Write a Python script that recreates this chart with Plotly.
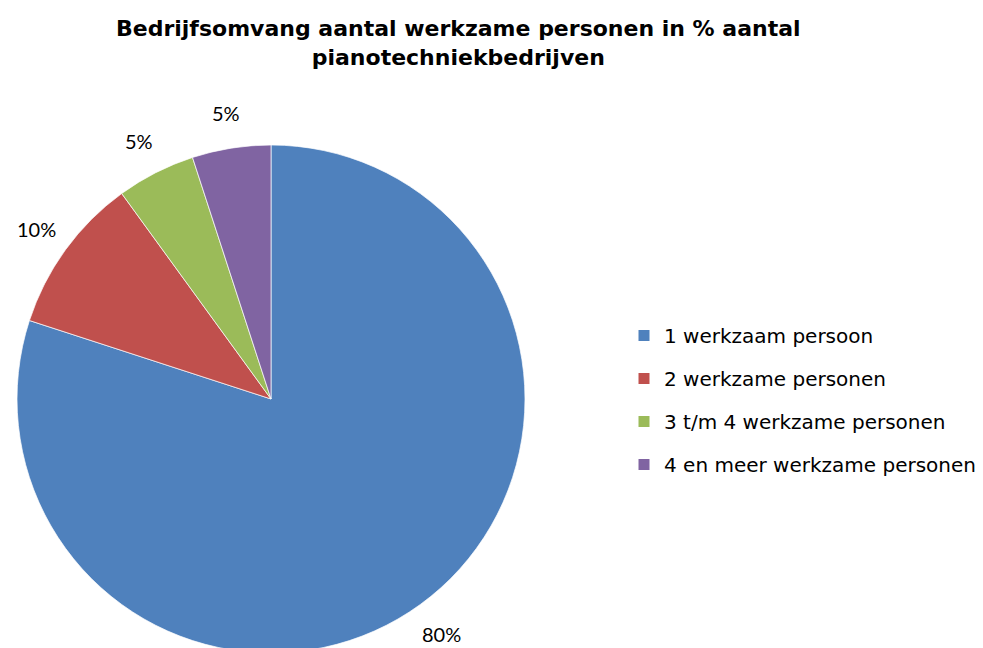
"""Pie chart: bedrijfsomvang pianotechniekbedrijven."""
import math
import plotly.graph_objects as go

labels = [
    "1 werkzaam persoon",
    "2 werkzame personen",
    "3 t/m 4 werkzame personen",
    "4 en meer werkzame personen",
]
values = [80, 10, 5, 5]
colors = ["#4F81BD", "#C0504D", "#9BBB59", "#8064A2"]

title_text = "Bedrijfsomvang aantal werkzame personen in % aantal<br>pianotechniekbedrijven"

W, H = 983, 648

# pie placement in pixels (figure coords)
pie_left, pie_right = 9, 517
pie_top, pie_bottom = 137, 645
cx = (pie_left + pie_right) / 2
cy = (pie_top + pie_bottom) / 2
label_r = 290  # distance of the percentage labels from the centre

fig = go.Figure()

fig.add_trace(go.Pie(
    labels=labels,
    values=values,
    sort=False,
    direction="clockwise",
    rotation=0,
    marker=dict(colors=colors, line=dict(color="white", width=0.7)),
    textinfo="none",
    showlegend=False,
    domain=dict(x=[pie_left / W, pie_right / W], y=[1 - pie_bottom / H, 1 - pie_top / H]),
    hoverinfo="label+percent",
))

# percentage labels a bit further out than plotly's own outside text
total = sum(values)
cum = 0
for v in values:
    mid = (cum + v / 2) / total * 2 * math.pi
    cum += v
    px = cx + label_r * math.sin(mid)
    py = cy - label_r * math.cos(mid)
    fig.add_annotation(
        text=f"{round(v / total * 100)}%",
        xref="paper", yref="paper",
        x=px / W, y=1 - py / H,
        xanchor="center", yanchor="middle",
        showarrow=False,
        font=dict(family="Lato", size=20, color="black"),
    )

# legend entries as separate traces so the spacing can be set
for lab, col in zip(labels, colors):
    fig.add_trace(go.Scatter(
        x=[None], y=[None],
        mode="markers",
        name=lab,
        legendgroup=lab,
        marker=dict(symbol="square", size=11, color=col),
    ))

fig.add_annotation(
    text=title_text,
    xref="paper", yref="paper",
    x=450 / W, y=1 - 6 / H,
    xanchor="center", yanchor="top",
    showarrow=False,
    font=dict(family="DejaVu Sans", size=22, color="black", weight="bold"),
)

fig.update_layout(
    width=W,
    height=H,
    margin=dict(l=0, r=0, t=0, b=0),
    paper_bgcolor="white",
    plot_bgcolor="white",
    xaxis=dict(visible=False),
    yaxis=dict(visible=False),
    legend=dict(
        x=616 / W,
        y=1 - 392 / H,
        xanchor="left",
        yanchor="middle",
        font=dict(family="DejaVu Sans", size=20, color="black"),
        tracegroupgap=14,
        itemwidth=30,
        bgcolor="rgba(0,0,0,0)",
    ),
)

fig.write_html("out.html")
